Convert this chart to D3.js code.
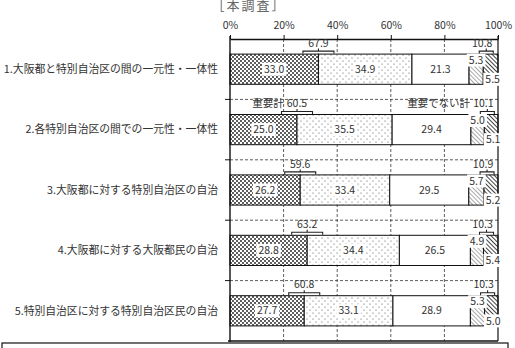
<!DOCTYPE html>
<meta charset="utf-8" />
<head>
  <script src="https://cdn.jsdelivr.net/npm/d3@7/dist/d3.min.js"></script>
  <title>本調査</title>
  <style>
    body {
      margin: 0;
      background: #fff;
    }
    text {
      font-family: "Noto Sans CJK JP", "Noto Sans", sans-serif;
      fill: #333;
    }
    .grid line {
      stroke: #333;
      stroke-width: 0.8;
      stroke-dasharray: 3, 2;
    }
  </style>
</head>
<body>
  <svg id="chart" width="515" height="348"></svg>
</body>

<script>
  const categories = [
    "1.大阪都と特別自治区の間の一元性・一体性",
    "2.各特別自治区の間での一元性・一体性",
    "3.大阪都に対する特別自治区の自治",
    "4.大阪都に対する大阪都民の自治",
    "5.特別自治区に対する特別自治区民の自治",
  ];
  const keys = ["important", "ratherImportant", "neither", "notVery", "notImportant"];
  const important = [33.0, 25.0, 26.2, 28.8, 27.7];
  const ratherImportant = [34.9, 35.5, 33.4, 34.4, 33.1];
  const neither = [21.3, 29.4, 29.5, 26.5, 28.9];
  const notVery = [5.3, 5.0, 5.7, 4.9, 5.3];
  const notImportant = [5.5, 5.1, 5.2, 5.4, 5.0];
  const importantTotal = [67.9, 60.5, 59.6, 63.2, 60.8];
  const notImportantTotal = [10.8, 10.1, 10.9, 10.3, 10.3];
  const leftPrefix = ["", "重要計", "", "", ""];
  const rightPrefix = ["", "重要でない計", "", "", ""];
  const tickValues = [0, 20, 40, 60, 80, 100];
  const title = "［本調査］";

  const rows = categories.map((c, i) => ({
    cat: c,
    important: important[i],
    ratherImportant: ratherImportant[i],
    neither: neither[i],
    notVery: notVery[i],
    notImportant: notImportant[i],
  }));

  const svg = d3.select("#chart");

  const x = d3.scaleLinear().domain([0, 100]).range([230, 498]);
  const y = d3
    .scaleBand()
    .domain(categories)
    .range([39, 341])
    .paddingInner(0.5)
    .paddingOuter(0.25);

  const gap = (y.step() - y.bandwidth()) / 2;
  const boundaries = categories.slice(1).map((c) => y(c) - gap);

  // patterns
  const defs = svg.append("defs");
  const p1 = defs
    .append("pattern")
    .attr("id", "p1")
    .attr("patternUnits", "userSpaceOnUse")
    .attr("width", 4)
    .attr("height", 4);
  p1.append("rect").attr("width", 4).attr("height", 4).attr("fill", "#fff");
  p1.append("circle").attr("cx", 1).attr("cy", 1).attr("r", 0.9).attr("fill", "#111");
  p1.append("circle").attr("cx", 3).attr("cy", 3).attr("r", 0.9).attr("fill", "#111");

  const p2 = defs
    .append("pattern")
    .attr("id", "p2")
    .attr("patternUnits", "userSpaceOnUse")
    .attr("width", 6)
    .attr("height", 6);
  p2.append("rect").attr("width", 6).attr("height", 6).attr("fill", "#fff");
  p2.append("circle").attr("cx", 1).attr("cy", 1).attr("r", 0.6).attr("fill", "#555");
  p2.append("circle").attr("cx", 4).attr("cy", 4).attr("r", 0.6).attr("fill", "#555");

  const hatch = (id, w, sw, col) => {
    const p = defs
      .append("pattern")
      .attr("id", id)
      .attr("patternUnits", "userSpaceOnUse")
      .attr("width", w)
      .attr("height", w)
      .attr("patternTransform", "rotate(-45)");
    p.append("rect").attr("width", w).attr("height", w).attr("fill", "#fff");
    p.append("line")
      .attr("x1", 0)
      .attr("y1", 0)
      .attr("x2", 0)
      .attr("y2", w)
      .attr("stroke", col)
      .attr("stroke-width", sw);
  };
  hatch("p4", 3, 1, "#555");
  hatch("p5", 3, 1.6, "#111");

  const fills = {
    important: "url(#p1)",
    ratherImportant: "url(#p2)",
    neither: "#fff",
    notVery: "url(#p4)",
    notImportant: "url(#p5)",
  };

  // title (cut at the top, as in the source image)
  svg
    .append("text")
    .attr("x", 249)
    .attr("y", 10)
    .attr("text-anchor", "middle")
    .style("font-size", "13px")
    .style("letter-spacing", "2px")
    .style("fill", "#666")
    .text(title);

  // gridlines
  const grid = svg.append("g").attr("class", "grid");
  grid
    .selectAll(".v")
    .data(tickValues.slice(1, -1))
    .enter()
    .append("line")
    .attr("x1", (d) => x(d))
    .attr("x2", (d) => x(d))
    .attr("y1", y.range()[0])
    .attr("y2", y.range()[1]);
  grid
    .selectAll(".h")
    .data(boundaries)
    .enter()
    .append("line")
    .attr("x1", x(0))
    .attr("x2", x(100))
    .attr("y1", (d) => d)
    .attr("y2", (d) => d);

  // bars
  const stack = d3.stack().keys(keys)(rows);
  const layers = svg
    .append("g")
    .selectAll("g")
    .data(stack)
    .enter()
    .append("g")
    .attr("fill", (d) => fills[d.key]);

  layers
    .selectAll("rect")
    .data((d) => d)
    .enter()
    .append("rect")
    .attr("x", (d) => x(d[0]))
    .attr("y", (d) => y(d.data.cat))
    .attr("width", (d) => x(d[1]) - x(d[0]))
    .attr("height", y.bandwidth())
    .attr("stroke", "#111")
    .attr("stroke-width", 1);

  // axes lines
  const topAxis = svg
    .append("g")
    .attr("transform", `translate(0,${y.range()[0]})`)
    .call(
      d3
        .axisTop(x)
        .tickValues(tickValues)
        .tickFormat((d) => d + "%")
        .tickSize(4)
        .tickSizeOuter(0)
        .tickPadding(6)
    );
  topAxis.select(".domain").attr("stroke", "#111").attr("stroke-width", 1.6);
  topAxis.selectAll(".tick line").attr("stroke", "#111");
  topAxis
    .selectAll("text")
    .style("font-size", "10.5px")
    .style("font-family", '"Noto Sans CJK JP", sans-serif')
    .attr("fill", "#333");

  svg
    .append("line")
    .attr("x1", x(0))
    .attr("x2", x(0))
    .attr("y1", y.range()[0] - 3)
    .attr("y2", y.range()[1] + 1)
    .attr("stroke", "#111")
    .attr("stroke-width", 1.4);
  svg
    .append("line")
    .attr("x1", x(100))
    .attr("x2", x(100))
    .attr("y1", y.range()[0] - 3)
    .attr("y2", y.range()[1])
    .attr("stroke", "#111")
    .attr("stroke-width", 1.2);
  svg
    .append("line")
    .attr("x1", x(0) - 2)
    .attr("x2", x(100))
    .attr("y1", y.range()[1])
    .attr("y2", y.range()[1])
    .attr("stroke", "#111")
    .attr("stroke-width", 1.4);
  svg
    .append("g")
    .selectAll("line")
    .data(boundaries)
    .enter()
    .append("line")
    .attr("x1", x(0) - 5)
    .attr("x2", x(0))
    .attr("y1", (d) => d)
    .attr("y2", (d) => d)
    .attr("stroke", "#111");

  // category labels
  svg
    .append("g")
    .selectAll("text")
    .data(categories)
    .enter()
    .append("text")
    .attr("x", x(0) - 12)
    .attr("y", (d) => y(d) + y.bandwidth() / 2)
    .attr("dy", "0.35em")
    .attr("text-anchor", "end")
    .style("font-size", "10.8px")
    .text((d) => d);

  // value labels with white boxes
  const labelFont = 10.5;
  const addLabel = (g, tx, ty, txt, box) => {
    const t = g
      .append("text")
      .attr("x", tx)
      .attr("y", ty)
      .attr("dy", "0.35em")
      .attr("text-anchor", "middle")
      .style("font-size", labelFont + "px")
      .text(txt);
    if (box) {
      const w = t.node().getComputedTextLength();
      g.insert("rect", () => t.node())
        .attr("x", tx - w / 2 - 2)
        .attr("y", ty - 6.5)
        .attr("width", w + 4)
        .attr("height", 13)
        .attr("fill", "#fff");
    }
    return t;
  };

  const labels = svg.append("g");
  stack.forEach((layer, k) => {
    layer.forEach((d) => {
      const top = y(d.data.cat);
      const bot = top + y.bandwidth();
      const cx = (x(d[0]) + x(d[1])) / 2;
      const v = (d[1] - d[0]).toFixed(1);
      if (k < 3) {
        addLabel(labels, cx, top + y.bandwidth() / 2, v, k < 2);
      } else if (k === 3) {
        addLabel(labels, cx, top + 6, v, true);
      } else {
        addLabel(labels, cx + 2, bot - 5, v, true);
      }
    });
  });

  // totals with brackets
  const brackets = svg.append("g").attr("fill", "none").attr("stroke", "#222").attr("stroke-width", 1.1);
  rows.forEach((r, i) => {
    const top = y(r.cat);
    const yb = top - 3;
    const cl = x(r.important);
    const cr = x(r.important + r.ratherImportant + r.neither + r.notVery) + 3;
    brackets
      .append("path")
      .attr("d", `M${cl - 15.5},${yb + 2.5}V${yb}H${cl + 15.5}V${yb + 2.5}M${cl},${yb}V${yb - 2.5}`);
    brackets
      .append("path")
      .attr("d", `M${cr - 7},${yb + 2.5}V${yb}H${cr + 7}V${yb + 2.5}M${cr},${yb}V${yb - 2.5}`);

    const tl = addLabel(labels, cl, top - 11, importantTotal[i].toFixed(1), false);
    const tr = addLabel(labels, cr - 4, top - 11, notImportantTotal[i].toFixed(1), false);
    if (leftPrefix[i]) {
      labels
        .append("text")
        .attr("x", cl - tl.node().getComputedTextLength() / 2 - 3)
        .attr("y", top - 11)
        .attr("dy", "0.35em")
        .attr("text-anchor", "end")
        .style("font-size", labelFont + "px")
        .text(leftPrefix[i]);
    }
    if (rightPrefix[i]) {
      labels
        .append("text")
        .attr("x", cr - 4 - tr.node().getComputedTextLength() / 2 - 3)
        .attr("y", top - 11)
        .attr("dy", "0.35em")
        .attr("text-anchor", "end")
        .style("font-size", labelFont + "px")
        .text(rightPrefix[i]);
    }
  });

  // legend box (cut off at bottom)
  svg
    .append("rect")
    .attr("x", 2)
    .attr("y", 343)
    .attr("width", 506)
    .attr("height", 40)
    .attr("fill", "#fff")
    .attr("stroke", "#111")
    .attr("stroke-width", 1.2);
</script>
